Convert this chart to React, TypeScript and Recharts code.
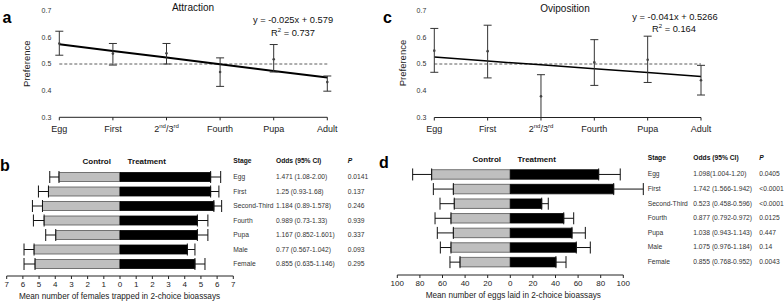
import React from 'react';
import { LineChart, Line, XAxis, YAxis, ErrorBar, ReferenceLine, BarChart, Bar } from 'recharts';

const FONT = '"Liberation Sans", Arial, Helvetica, sans-serif';

// ---- Panels a & c: preference by stage ----
const stages = ['Egg', 'First', '2nd/3rd', 'Fourth', 'Pupa', 'Adult'];
const preferenceTicks = [0.3, 0.4, 0.5, 0.6, 0.7];

const attractionMean = [0.577, 0.539, 0.54, 0.47, 0.518, 0.432];
const attractionLow = [0.533, 0.496, 0.5, 0.416, 0.47, 0.398];
const attractionHigh = [0.623, 0.577, 0.577, 0.523, 0.573, 0.455];
const attractionFit = [0.574, 0.549, 0.524, 0.499, 0.474, 0.449];

const ovipositionMean = [0.55, 0.548, 0.379, 0.506, 0.516, 0.439];
const ovipositionLow = [0.469, 0.448, 0.3, 0.42, 0.431, 0.384];
const ovipositionHigh = [0.633, 0.645, 0.46, 0.591, 0.604, 0.495];
const ovipositionFit = [0.526, 0.511, 0.497, 0.482, 0.468, 0.453];

// ---- Panels b & d: 2-choice bioassays ----
const bioStages = ['Egg', 'First', 'Second-Third', 'Fourth', 'Pupa', 'Male', 'Female'];

const femalesControl = [3.77, 4.42, 4.79, 4.69, 3.97, 5.31, 5.25];
const femalesControlErr = [0.57, 0.62, 0.62, 0.66, 0.62, 0.62, 0.68];
const femalesTreatment = [5.6, 5.6, 5.8, 4.78, 4.78, 4.16, 4.63];
const femalesTreatmentErr = [0.62, 0.51, 0.48, 0.65, 0.65, 0.47, 0.62];
const femalesTicks = [-7, -6, -5, -4, -3, -2, -1, 0, 1, 2, 3, 4, 5, 6, 7];
const femalesOdds = ['1.471 (1.08-2.00)', '1.25 (0.93-1.68)', '1.184 (0.89-1.578)', '0.989 (0.73-1.33)', '1.167 (0.852-1.601)', '0.77 (0.567-1.042)', '0.855 (0.635-1.146)'];
const femalesP = ['0.0141', '0.137', '0.246', '0.939', '0.337', '0.093', '0.295'];

const eggsControl = [69.6, 50.4, 49.6, 52.5, 50.4, 52.5, 44.5];
const eggsControlErr = [16.8, 17.7, 12.6, 14.1, 14.2, 9.4, 8.9];
const eggsTreatment = [78.2, 91.5, 27.8, 47.3, 54.6, 58.4, 40.4];
const eggsTreatmentErr = [19.1, 26.2, 5.8, 8.8, 11.8, 12.4, 8.9];
const eggsTicks = [-100, -80, -60, -40, -20, 0, 20, 40, 60, 80, 100];
const eggsOdds = ['1.098(1.004-1.20)', '1.742 (1.566-1.942)', '0.523 (0.458-0.596)', '0.877 (0.792-0.972)', '1.038 (0.943-1.143)', '1.075 (0.976-1.184)', '0.855 (0.768-0.952)'];
const eggsP = ['0.0405', '<0.0001', '<0.0001', '0.0125', '0.447', '0.14', '0.0043'];

const buildPref = (mean: number[], low: number[], high: number[], fit: number[]) =>
  stages.map((s, i) => ({ stage: s, mean: mean[i], err: [mean[i] - low[i], high[i] - mean[i]], fit: fit[i] }));

const buildBio = (c: number[], ce: number[], t: number[], te: number[], odds: string[], p: string[]) =>
  bioStages.map((s, i) => ({
    stage: s,
    control: -c[i],
    controlErr: [ce[i], 0],
    treatment: t[i],
    treatmentErr: [0, te[i]],
    odds: odds[i],
    p: p[i],
  }));

const attractionData = buildPref(attractionMean, attractionLow, attractionHigh, attractionFit);
const ovipositionData = buildPref(ovipositionMean, ovipositionLow, ovipositionHigh, ovipositionFit);
const femalesData = buildBio(femalesControl, femalesControlErr, femalesTreatment, femalesTreatmentErr, femalesOdds, femalesP);
const eggsData = buildBio(eggsControl, eggsControlErr, eggsTreatment, eggsTreatmentErr, eggsOdds, eggsP);

const StageTick = (props: any) => {
  const { x, y, payload } = props;
  const v = String(payload.value);
  const fs = 9;
  if (v === '2nd/3rd') {
    return (
      <text x={x} y={y} dy={fs * 0.71} textAnchor="middle" fontSize={fs} fill="#222" stroke="none" fontFamily={FONT}>
        2<tspan fontSize={6} dy={-3.5}>nd</tspan>
        <tspan dy={3.5}>/3</tspan>
        <tspan fontSize={6} dy={-3.5}>rd</tspan>
      </text>
    );
  }
  return (
    <text x={x} y={y} dy={fs * 0.71} textAnchor="middle" fontSize={fs} fill="#222" stroke="none" fontFamily={FONT}>
      {v}
    </text>
  );
};

const makeTableTick = (data: any[], oddsDx: number, pDx: number, stageDx: number) => (props: any) => {
  const { x, y, payload } = props;
  const row = data.find((d) => d.stage === payload.value);
  if (!row) return null;
  const common = { y, dy: 2.4, fontSize: 6.7, fill: '#333', stroke: 'none', fontFamily: FONT };
  return (
    <g>
      <text x={x + stageDx} {...common}>{row.stage}</text>
      <text x={x + oddsDx} {...common}>{row.odds}</text>
      <text x={x + pDx} {...common}>{row.p}</text>
    </g>
  );
};

function PreferenceChart(props: any) {
  const { data, left, width, margin, fitWidth } = props;
  return (
    <div style={{ position: 'absolute', left, top: 0 }}>
      <LineChart width={width} height={140} data={data} margin={margin}>
        <XAxis
          dataKey="stage"
          scale="point"
          padding={{ left: 0, right: 0 }}
          height={20}
          interval={0}
          tickSize={3}
          tickMargin={5}
          tick={<StageTick />}
          axisLine={{ stroke: '#222', strokeWidth: 1 }}
          tickLine={{ stroke: '#222', strokeWidth: 1 }}
        />
        <YAxis
          domain={[0.3, 0.7]}
          ticks={preferenceTicks}
          tickFormatter={(v: number) => v.toFixed(1)}
          width={20}
          axisLine={false}
          tickLine={false}
          tickSize={6}
          tickMargin={2}
          tick={{ fontSize: 7, fill: '#333', fontFamily: FONT }}
        />
        <ReferenceLine y={0.5} stroke="#333" strokeWidth={0.8} strokeDasharray="3 2" />
        <Line dataKey="fit" stroke="#000" strokeWidth={fitWidth} dot={false} isAnimationActive={false} />
        <Line
          dataKey="mean"
          stroke="none"
          dot={{ r: 1.3, fill: '#444', stroke: 'none' }}
          activeDot={false}
          isAnimationActive={false}
        >
          <ErrorBar dataKey="err" direction="y" width={4} stroke="#333" strokeWidth={1} />
        </Line>
      </LineChart>
    </div>
  );
}

function BioChart(props: any) {
  const { data, left, margin, domain, ticks, tableTick, yWidth, padBottom, barSize, overflow } = props;
  return (
    <div style={{ position: 'absolute', left, top: 140 }}>
      <BarChart
        layout="vertical"
        width={props.width}
        height={163}
        data={data}
        margin={margin}
        barSize={barSize}
        barGap={-barSize}
      >
        <XAxis
          type="number"
          domain={domain}
          ticks={ticks}
          allowDataOverflow={overflow}
          interval={0}
          height={20}
          tickSize={3}
          tickMargin={2}
          tickFormatter={(v: number) => String(Math.abs(v))}
          tick={{ fontSize: 8, fill: '#222', fontFamily: FONT }}
          axisLine={{ stroke: '#222', strokeWidth: 1 }}
          tickLine={{ stroke: '#222', strokeWidth: 1 }}
        />
        <YAxis
          type="category"
          dataKey="stage"
          orientation="right"
          width={yWidth}
          interval={0}
          padding={{ top: 0, bottom: padBottom }}
          axisLine={false}
          tickLine={false}
          tickSize={0}
          tickMargin={0}
          tick={tableTick}
        />
        <Bar dataKey="control" fill="#bfbfbf" stroke="#555" strokeWidth={0.8} isAnimationActive={false}>
          <ErrorBar dataKey="controlErr" direction="x" width={6} stroke="#111" strokeWidth={1} />
        </Bar>
        <Bar dataKey="treatment" fill="#000" stroke="#000" strokeWidth={0.8} isAnimationActive={false}>
          <ErrorBar dataKey="treatmentErr" direction="x" width={6} stroke="#111" strokeWidth={1} />
        </Bar>
      </BarChart>
    </div>
  );
}

export default function App() {
  const femalesTick = makeTableTick(femalesData, 42.7, 114.4, 0);
  const eggsTick = makeTableTick(eggsData, 70, 136, 24.4);
  const hdr = { fontSize: 6.7, fontWeight: 'bold' as const, fill: '#111', fontFamily: FONT };
  return (
    <div
      style={{
        position: 'absolute',
        left: 0,
        top: 0,
        width: 784,
        height: 303,
        background: '#fff',
        overflow: 'hidden',
        fontFamily: FONT,
      }}
    >
      <PreferenceChart
        data={attractionData}
        left={0}
        width={390}
        margin={{ top: 10.7, right: 62.7, bottom: 2.7, left: 39.3 }}
        fitWidth={2}
      />
      <PreferenceChart
        data={ovipositionData}
        left={390}
        width={394}
        margin={{ top: 10.5, right: 83, bottom: 2.5, left: 24.3 }}
        fitWidth={1.5}
      />
      <BioChart
        data={femalesData}
        left={0}
        width={390}
        margin={{ top: 29.5, right: 6.7, bottom: 7, left: 6.7 }}
        domain={[-7, 7]}
        ticks={femalesTicks}
        tableTick={femalesTick}
        yWidth={150}
        padBottom={5}
        barSize={9}
        overflow={false}
      />
      <BioChart
        data={eggsData}
        left={390}
        width={394}
        margin={{ top: 26.7, right: 5.7, bottom: 8, left: 7.3 }}
        domain={[-100, 100]}
        ticks={eggsTicks}
        tableTick={eggsTick}
        yWidth={155}
        padBottom={6}
        barSize={9.5}
        overflow={true}
      />
      <svg
        width={784}
        height={303}
        style={{ position: 'absolute', left: 0, top: 0, pointerEvents: 'none' }}
        fontFamily={FONT}
      >
        <text x={2.5} y={22.7} fontSize={16} fontWeight="bold" fill="#000">a</text>
        <text x={383} y={22.7} fontSize={16} fontWeight="bold" fill="#000">c</text>
        <text x={0} y={171} fontSize={16} fontWeight="bold" fill="#000">b</text>
        <text x={379} y={168} fontSize={16} fontWeight="bold" fill="#000">d</text>

        <text x={193} y={11} fontSize={10} textAnchor="middle" fill="#111">Attraction</text>
        <text x={565} y={12} fontSize={10} textAnchor="middle" fill="#111">Oviposition</text>

        <text x={293} y={22.5} fontSize={9.3} textAnchor="middle" fill="#111">y = -0.025x + 0.579</text>
        <text x={293} y={35.5} fontSize={9.3} textAnchor="middle" fill="#111">
          R<tspan fontSize={6} dy={-3.5}>2</tspan><tspan dy={3.5}> = 0.737</tspan>
        </text>
        <text x={675} y={19.5} fontSize={9.3} textAnchor="middle" fill="#111">y = -0.041x + 0.5266</text>
        <text x={674} y={31.5} fontSize={9.3} textAnchor="middle" fill="#111">
          R<tspan fontSize={6} dy={-3.5}>2</tspan><tspan dy={3.5}> = 0.164</tspan>
        </text>

        <text x={30} y={63.7} fontSize={9.5} textAnchor="middle" fill="#222" transform="rotate(-90 30 63.7)">Preference</text>
        <text x={405.5} y={63} fontSize={9.5} textAnchor="middle" fill="#222" transform="rotate(-90 405.5 63)">Preference</text>

        <text x={96.7} y={163.5} fontSize={8} fontWeight="bold" textAnchor="middle" fill="#111">Control</text>
        <text x={146.7} y={163.5} fontSize={8} fontWeight="bold" textAnchor="middle" fill="#111">Treatment</text>
        <text x={486.8} y={161.7} fontSize={8} fontWeight="bold" textAnchor="middle" fill="#111">Control</text>
        <text x={536.7} y={161.7} fontSize={8} fontWeight="bold" textAnchor="middle" fill="#111">Treatment</text>

        <text x={233.3} y={162.5} {...hdr}>Stage</text>
        <text x={276} y={162.5} {...hdr}>Odds (95% CI)</text>
        <text x={347.7} y={162.5} {...hdr} fontStyle="italic">P</text>
        <text x={647.7} y={159.7} {...hdr}>Stage</text>
        <text x={693.3} y={159.7} {...hdr}>Odds (95% CI)</text>
        <text x={759.3} y={159.7} {...hdr} fontStyle="italic">P</text>

        <text x={119.5} y={298.5} fontSize={8.2} textAnchor="middle" fill="#222">Mean number of females trapped in 2-choice bioassays</text>
        <text x={513.3} y={297.5} fontSize={8.2} textAnchor="middle" fill="#222">Mean number of eggs laid in 2-choice bioassays</text>
      </svg>
    </div>
  );
}
